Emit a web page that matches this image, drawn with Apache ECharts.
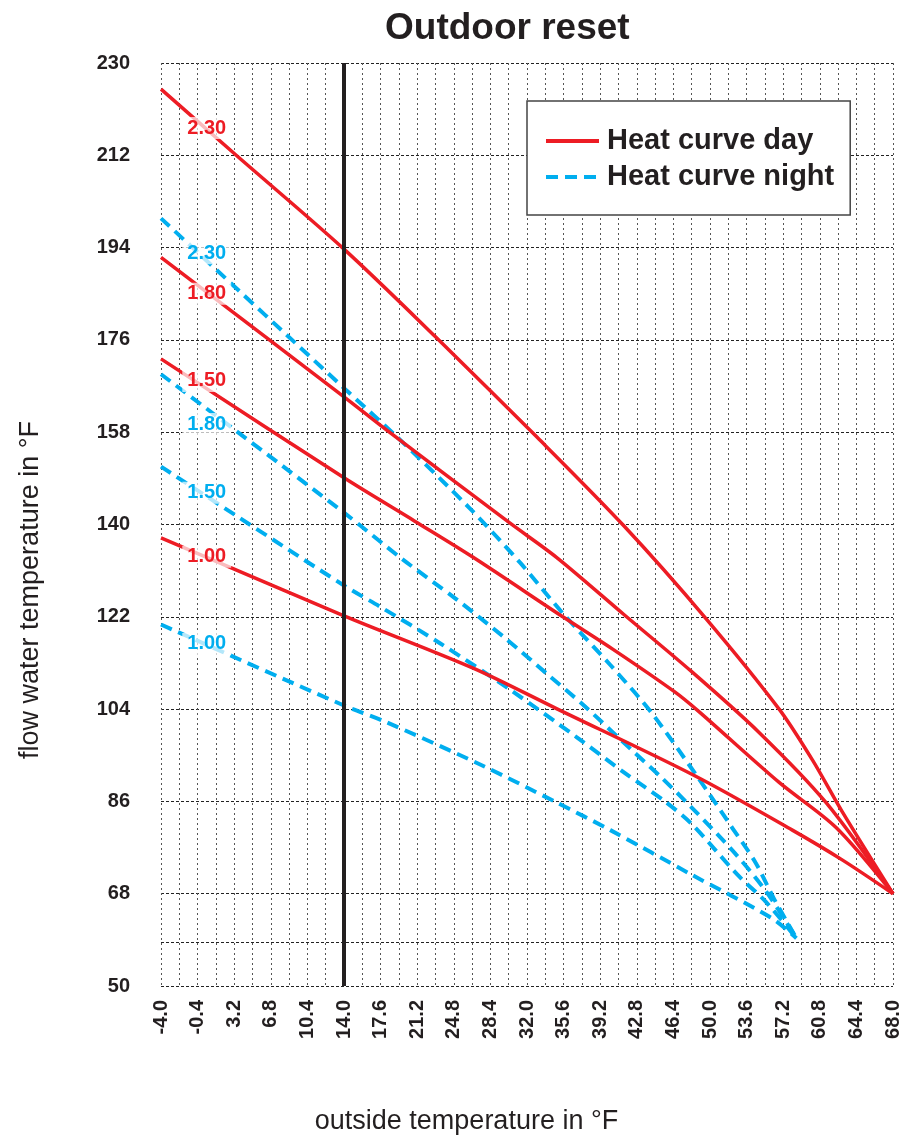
<!DOCTYPE html>
<html>
<head>
<meta charset="utf-8">
<title>Outdoor reset</title>
<script src="https://cdn.jsdelivr.net/npm/echarts@6/dist/echarts.min.js"></script>
<style>
  html, body { margin: 0; padding: 0; background: #fff; }
  #chart { width: 903px; height: 1135px; }
</style>
</head>
<body>
<div id="chart"></div>
<script>
  // outside temperature (°F): labels every 3.6, grid every 1.8
  var xLabels = [-4.0, -0.4, 3.2, 6.8, 10.4, 14.0, 17.6, 21.2, 24.8, 28.4, 32.0,
    35.6, 39.2, 42.8, 46.4, 50.0, 53.6, 57.2, 60.8, 64.4, 68.0];
  var xGrid = [-4, -2.2, -0.4, 1.4, 3.2, 5, 6.8, 8.6, 10.4, 12.2, 14, 15.8, 17.6, 19.4,
    21.2, 23, 24.8, 26.6, 28.4, 30.2, 32, 33.8, 35.6, 37.4, 39.2, 41, 42.8, 44.6, 46.4,
    48.2, 50, 51.8, 53.6, 55.4, 57.2, 59, 60.8, 62.6, 64.4, 66.2, 68];
  // flow water temperature (°F)
  var yLabels = [50, 68, 86, 104, 122, 140, 158, 176, 194, 212, 230];
  var yGrid = [50, 58.6, 68, 86, 104, 122, 140, 158, 176, 194, 212, 230];
  var designTemp = 14.0;

  var slopes = ['2.30', '1.80', '1.50', '1.00'];

  // heat curve day [outside, flow]
  var day230 = [[-4, 224.9], [3.4, 212.0], [14, 193.7], [23, 176.6], [33, 157.0], [41.5, 139.8],
    [49.5, 121.9], [56.8, 104.0], [60.1, 94.0], [63, 84.0], [68, 68]];
  var day180 = [[-4, 192.1], [14, 164.9], [18.4, 158.1], [30.3, 140.3], [34.9, 133.6], [41.5, 122.5],
    [48.2, 111.3], [54.8, 99.5], [61.4, 85.8], [68, 68]];
  var day150 = [[-4, 172.3], [14, 149.1], [21, 140.6], [26.7, 133.6], [35.6, 121.9], [40.5, 115.6],
    [46.5, 107.4], [48.8, 103.7], [56.8, 89.7], [62.4, 80.9], [68, 68]];
  var day100 = [[-4, 137.4], [14, 122.2], [26.7, 112.0], [34.9, 104.1], [48.5, 91.0], [58.1, 80.4],
    [63, 74.6], [68, 68]];

  // heat curve night [outside, flow]
  var night230 = [[-4, 199.7], [14, 166.6], [19.1, 157.3], [26.3, 143.3], [31.3, 132.6], [35.6, 122.5],
    [40.2, 112.6], [44.2, 103.4], [48.8, 90.7], [52.2, 80.8], [54.5, 74.0], [56.3, 67.0], [58.5, 59.3]];
  var night180 = [[-4, 169.3], [14, 142.3], [19.7, 133.3], [25, 125.5], [30, 117.6], [34.3, 110.3],
    [37.6, 104.7], [42.2, 96.2], [45.2, 90.7], [48.2, 84.8], [52.4, 76.0], [55.5, 68.5], [58.5, 59.3]];
  var night150 = [[-4, 151.3], [14, 128.1], [17.7, 123.8], [23.4, 116.9], [30.4, 107.7], [36.9, 98.5],
    [41.5, 91.7], [45.5, 86.1], [48.2, 81.6], [52.7, 71.7], [55.5, 66.4], [58.5, 59.3]];
  var night100 = [[-4, 120.5], [14, 104.7], [18.1, 101.5], [27.6, 93.0], [34.9, 85.8], [40.2, 80.4],
    [48.2, 71.7], [56.1, 63.2], [58.5, 59.3]];

  // where the slope numbers sit on each curve
  var dayLabelAt = [[0.5, 217.3], [0.5, 185.0], [0.5, 168.0], [0.5, 133.7]];
  var nightLabelAt = [[0.5, 192.9], [0.5, 159.6], [0.5, 146.2], [0.5, 116.7]];

  var RED = '#ed1c24';
  var BLUE = '#00aeef';
  var FONT = '"Liberation Sans", Arial, sans-serif';

  function curve(name, points, slope, labelAt, color, dashed) {
    return {
      name: name,
      type: 'line',
      data: points,
      symbol: 'none',
      smooth: 0.3,
      z: dashed ? 2 : 3,
      lineStyle: {
        color: color,
        width: dashed ? 4 : 3.5,
        type: dashed ? [12, 7] : 'solid',
        cap: 'butt',
        join: 'round'
      },
      itemStyle: { color: color },
      markPoint: {
        silent: true,
        symbol: 'rect',
        symbolSize: 0,
        data: [{ coord: labelAt, value: slope }],
        label: {
          show: true,
          position: 'inside',
          formatter: slope,
          color: color,
          fontFamily: FONT,
          fontWeight: 'bold',
          fontSize: 20,
          backgroundColor: 'rgba(255,255,255,0.7)',
          padding: [1, 5]
        }
      }
    };
  }

  var series = [];
  var nights = [night230, night180, night150, night100];
  var days = [day230, day180, day150, day100];
  nights.forEach(function (d, i) {
    series.push(curve('Heat curve night', d, slopes[i], nightLabelAt[i], BLUE, true));
  });
  days.forEach(function (d, i) {
    series.push(curve('Heat curve day', d, slopes[i], dayLabelAt[i], RED, false));
  });
  // design outdoor temperature
  series.push({
    type: 'line',
    data: [],
    z: 5,
    markLine: {
      silent: true,
      symbol: 'none',
      label: { show: false },
      lineStyle: { color: '#231f20', width: 4, type: 'solid' },
      data: [{ xAxis: designTemp }]
    }
  });

  var myChart = echarts.init(document.getElementById('chart'));
  myChart.setOption({
    animation: false,
    textStyle: { fontFamily: FONT },
    title: {
      text: 'Outdoor reset',
      left: 380,
      top: 5,
      textStyle: { fontFamily: FONT, fontSize: 37, fontWeight: 'bold', color: '#231f20' }
    },
    legend: {
      orient: 'vertical',
      left: 527,
      top: 101,
      data: ['Heat curve day', 'Heat curve night'],
      backgroundColor: '#fff',
      borderColor: '#444',
      borderWidth: 1.5,
      borderRadius: 0,
      padding: [25, 16, 23, 17],
      itemWidth: 53,
      itemHeight: 14,
      itemGap: 6,
      itemStyle: { opacity: 0 },
      lineStyle: { width: 4 },
      textStyle: {
        fontFamily: FONT,
        fontSize: 29,
        fontWeight: 'bold',
        color: '#231f20',
        lineHeight: 30,
        padding: [0, 0, 0, 3]
      }
    },
    grid: { left: 161, right: 10, top: 63, bottom: 149, outerBoundsMode: 'none' },
    xAxis: {
      type: 'value',
      min: -4,
      max: 68,
      name: 'outside temperature in °F',
      nameLocation: 'middle',
      nameGap: 122,
      nameTextStyle: { fontFamily: FONT, fontSize: 27, color: '#231f20', padding: [0, 121, 0, 0] },
      axisLine: { show: false },
      axisTick: { show: false, customValues: xGrid },
      axisLabel: {
        customValues: xLabels,
        rotate: 90,
        margin: 14,
        fontFamily: FONT,
        fontSize: 20,
        fontWeight: 'bold',
        color: '#231f20',
        formatter: function (v) { return v.toFixed(1); }
      },
      splitLine: { show: true, lineStyle: { color: '#555', width: 1, type: [2, 3] } }
    },
    yAxis: {
      type: 'value',
      min: 50,
      max: 230,
      name: 'flow water temperature in °F',
      nameLocation: 'middle',
      nameGap: 117,
      nameTextStyle: { fontFamily: FONT, fontSize: 27, color: '#231f20', padding: [0, 131, 0, 0] },
      axisLine: { show: false },
      axisTick: { show: false, customValues: yGrid },
      axisLabel: {
        customValues: yLabels,
        margin: 31,
        fontFamily: FONT,
        fontSize: 20,
        fontWeight: 'bold',
        color: '#231f20'
      },
      splitLine: { show: true, lineStyle: { color: '#222', width: 1, type: [3, 2] } }
    },
    series: series
  });
</script>
</body>
</html>
